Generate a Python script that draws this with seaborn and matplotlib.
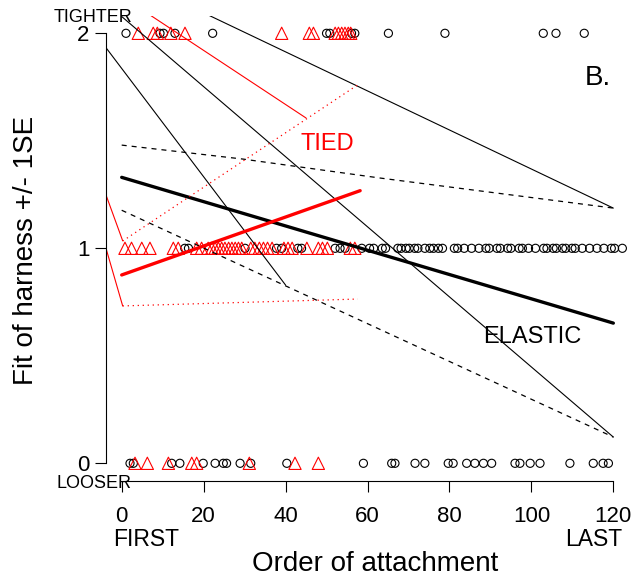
import numpy as np
import pandas as pd
import matplotlib
matplotlib.use('Agg')
import matplotlib.pyplot as plt
import seaborn as sns

# points: circles = ELASTIC (black), triangles = TIED (red)
elastic_top_x = [1.05, 9.35, 10.2, 13.0, 22.2, 50.0, 50.8, 56.1, 56.9, 65.1, 78.9, 102.9, 106.0, 112.9]
tied_top_x = [4.05, 7.7, 8.7, 12.0, 15.45, 39.05, 45.8, 46.8, 52.1, 52.9, 53.7, 54.5, 55.3, 55.9]

elastic_mid_x = [15.4, 16.3, 30.1, 37.8, 39.05, 43.0, 43.9, 52.1, 53.3, 54.5,
                 58.6, 60.5, 61.5, 63.6, 64.4, 67.4, 68.2, 69.4, 70.2, 71.5, 72.3,
                 74.0, 75.2, 76.1, 77.3, 78.3, 81.2, 82.0, 83.6, 85.4, 87.2, 88.9,
                 89.7, 91.6, 92.4, 94.2, 95.0, 97.0, 97.8, 99.3, 101.0, 103.0, 103.8,
                 105.3, 106.1, 107.6, 108.4, 109.9, 110.7, 112.4, 114.2, 116.0, 117.7,
                 119.5, 120.3, 122.2]
tied_mid_x = [0.8, 2.4, 4.9, 6.9, 12.6, 13.8, 18.3, 19.5, 21.1, 22.0, 22.8, 23.6,
              24.4, 25.2, 26.1, 26.9, 27.7, 28.5, 29.3, 31.5, 32.5, 33.6, 34.6,
              35.6, 36.7, 39.6, 40.6, 41.6, 45.2, 48.0, 49.0, 50.2, 55.8, 56.9]

elastic_bot_x = [2.03, 2.84, 12.2, 14.2, 19.9, 22.8, 24.8, 25.6, 28.9, 31.5, 40.3,
                 59.0, 65.9, 66.7, 71.6, 74.0, 79.7, 80.9, 84.2, 86.2, 88.3, 90.3,
                 96.0, 97.2, 99.7, 102.1, 109.4, 115.1, 117.5, 118.8]
tied_bot_x = [3.25, 6.26, 11.4, 17.1, 18.3, 31.15, 42.3, 48.0]

# fitted lines +/- 1SE
elastic_fit_x = [0, 120]
elastic_fit_y = [1.330, 0.652]
elastic_up_x = [0, 29.6, 63.0, 120]
elastic_up_y = [1.480, 1.415, 1.327, 1.187]
elastic_lo_x = [0, 120]
elastic_lo_y = [1.177, 0.122]

tied_fit_x = [0, 58.2]
tied_fit_y = [0.876, 1.268]
tied_up_x = [0.24, 57.6]
tied_up_y = [1.034, 1.760]
tied_lo_x = [0.24, 57.6]
tied_lo_y = [0.732, 0.764]

# thin connecting lines
black_thin = [([-3.83, 40.0], [1.933, 0.829]),
              ([0, 120], [2.078, 0.122]),
              ([0, 120], [2.277, 1.187])]
red_thin = [([0, 45.0], [2.172, 1.606]),
            ([-3.83, 0.24], [1.248, 1.035]),
            ([-3.83, 0.24], [1.0, 0.732])]

sns.set_style("white")
plt.rcParams['font.family'] = ['Liberation Sans', 'DejaVu Sans']
plt.rcParams['text.color'] = 'black'
plt.rcParams['axes.labelcolor'] = 'black'
plt.rcParams['xtick.color'] = 'black'
plt.rcParams['ytick.color'] = 'black'

W, H = 634, 581
fig = plt.figure(figsize=(W / 100, H / 100), dpi=100)
ax = fig.add_axes([106 / W, (H - 480.5) / H, (632.8 - 106) / W, (480.5 - 16.1) / H])

def fpx(x, y):
    return x / W, 1 - y / H

# lines
for xs, ys in black_thin:
    sns.lineplot(x=xs, y=ys, ax=ax, color='black', lw=0.8, estimator=None, sort=False)
for xs, ys in red_thin:
    sns.lineplot(x=xs, y=ys, ax=ax, color='red', lw=0.8, estimator=None, sort=False)

sns.lineplot(x=elastic_up_x, y=elastic_up_y, ax=ax, color='black', lw=0.9,
             ls=(0, (4, 4)), estimator=None, sort=False)
sns.lineplot(x=elastic_lo_x, y=elastic_lo_y, ax=ax, color='black', lw=0.9,
             ls=(0, (4, 4)), estimator=None, sort=False)
sns.lineplot(x=elastic_fit_x, y=elastic_fit_y, ax=ax, color='black', lw=2.4,
             estimator=None, sort=False)
sns.lineplot(x=tied_up_x, y=tied_up_y, ax=ax, color='red', lw=0.9,
             ls=(0, (1, 3)), estimator=None, sort=False)
sns.lineplot(x=tied_lo_x, y=tied_lo_y, ax=ax, color='red', lw=0.9,
             ls=(0, (1, 3)), estimator=None, sort=False)
sns.lineplot(x=tied_fit_x, y=tied_fit_y, ax=ax, color='red', lw=2.4,
             estimator=None, sort=False)

# points
for xs, yv in [(elastic_top_x, 2), (elastic_mid_x, 1), (elastic_bot_x, 0)]:
    sns.scatterplot(x=xs, y=[yv] * len(xs), ax=ax, marker='o', s=34,
                    facecolors='none', edgecolor='black', linewidth=0.8)
for xs, yv in [(tied_top_x, 2), (tied_mid_x, 1), (tied_bot_x, 0)]:
    sns.scatterplot(x=xs, y=[yv] * len(xs), ax=ax, marker='^', s=78,
                    facecolors='none', edgecolor='red', linewidth=0.8)

ax.set_xlim(-3.83, 124.75)
ax.set_ylim(-0.08, 2.08)
ax.spines['top'].set_visible(False)
ax.spines['right'].set_visible(False)
ax.spines['left'].set_bounds(0, 2)
ax.spines['bottom'].set_bounds(0, 120)
ax.spines['left'].set_linewidth(0.8)
ax.spines['bottom'].set_linewidth(0.8)
ax.spines['left'].set_color('black')
ax.spines['bottom'].set_color('black')
ax.set_xticks([0, 20, 40, 60, 80, 100, 120])
ax.set_yticks([0, 1, 2])
ax.set_yticklabels(['0', '1', '2'])
ax.tick_params(axis='both', which='both', direction='out', length=8, width=0.8,
               color='black', labelcolor='black', labelsize=16, left=True, bottom=True)
ax.tick_params(axis='x', pad=10)
ax.tick_params(axis='y', pad=4)

ax.text(50.1, 1.485, 'TIED', color='red', fontsize=17, ha='center', va='center')
ax.text(100.1, 0.587, 'ELASTIC', color='black', fontsize=17, ha='center', va='center')
ax.text(116.3, 1.792, 'B.', color='black', fontsize=20, ha='center', va='center')

fig.text(*fpx(93, 18), 'TIGHTER', fontsize=13, ha='center', va='center')
fig.text(*fpx(94, 484), 'LOOSER', fontsize=13, ha='center', va='center')
fig.text(*fpx(146, 540), 'FIRST', fontsize=16.5, ha='center', va='center')
fig.text(*fpx(594, 540), 'LAST', fontsize=16.5, ha='center', va='center')
fig.text(*fpx(375, 564), 'Order of attachment', fontsize=20, ha='center', va='center')
fig.text(*fpx(26, 250), 'Fit of harness +/- 1SE', fontsize=20, ha='center',
         va='center', rotation=90)

fig.savefig('out.png', dpi=100)
